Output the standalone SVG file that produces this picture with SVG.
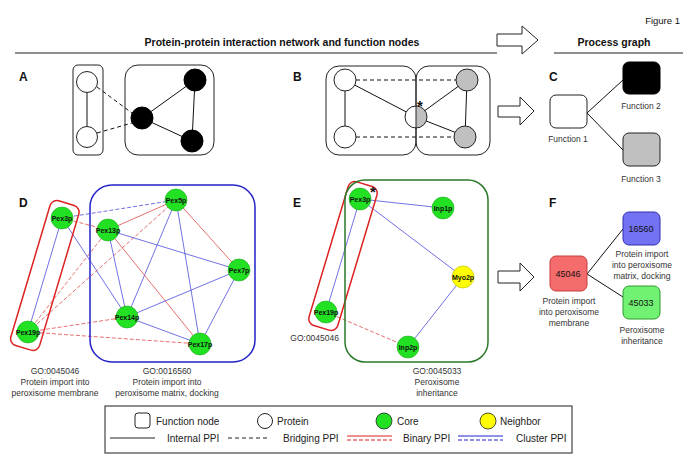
<svg xmlns="http://www.w3.org/2000/svg" width="685" height="472" viewBox="0 0 685 472">
<style>
text{font-family:"Liberation Sans",Arial,sans-serif;fill:#111}
.hdr{font-size:10.5px;font-weight:bold;text-anchor:middle}
.lbl{font-size:12px;font-weight:bold}
.sm{font-size:8.5px;text-anchor:middle;fill:#333}
.leg{font-size:10px;fill:#222}
.nl{font-size:7px;font-weight:bold;text-anchor:middle}
.box{fill:none;stroke:#222;stroke-width:1}
.wc{fill:#fff;stroke:#222;stroke-width:1}
.bc{fill:#000;stroke:#000;stroke-width:1}
.gc{fill:#c0c0c0;stroke:#222;stroke-width:1}
.edge{stroke:#111;stroke-width:1;fill:none}
.dash{stroke:#111;stroke-width:1;stroke-dasharray:4,3;fill:none}
.core{fill:#22e022;stroke:#1caa1c;stroke-width:0.6}
.nbr{fill:#ffff00;stroke:#b8b800;stroke-width:0.6}
.be{stroke:#4c4cdc;stroke-width:0.8;fill:none}
.bd{stroke:#4c4cdc;stroke-width:0.8;fill:none;stroke-dasharray:4,2}
.re{stroke:#e04a4a;stroke-width:0.8;fill:none}
.rd{stroke:#e04a4a;stroke-width:0.8;fill:none;stroke-dasharray:4,2}
.arrow{fill:#fff;stroke:#222;stroke-width:1}
</style>

<!-- Header -->
<text x="680" y="24" font-size="9.5" text-anchor="end" fill="#222">Figure 1</text>
<text class="hdr" x="282" y="46">Protein-protein interaction network and function nodes</text>
<text class="hdr" x="614" y="46">Process graph</text>
<line x1="15" y1="53" x2="497" y2="53" stroke="#222" stroke-width="1.2"/>
<line x1="554" y1="53" x2="683" y2="53" stroke="#222" stroke-width="1.2"/>
<polygon class="arrow" points="497,34 522,34 522,26 538,40 522,54 522,46 497,46"/>

<!-- Panel labels -->
<text class="lbl" x="19" y="81">A</text>
<text class="lbl" x="293" y="81">B</text>
<text class="lbl" x="549" y="81">C</text>
<text class="lbl" x="19" y="207">D</text>
<text class="lbl" x="293" y="207">E</text>
<text class="lbl" x="549" y="207">F</text>

<!-- Connectors -->
<g id="connectors">
  <!-- A -->
  <line class="edge" x1="87" y1="93" x2="87" y2="127"/>
  <line class="dash" x1="97" y1="87" x2="132" y2="113"/>
  <line class="dash" x1="97" y1="133" x2="132" y2="123"/>
  <line class="edge" x1="142" y1="118" x2="195" y2="80"/>
  <line class="edge" x1="195" y1="80" x2="192" y2="141"/>
  <line class="edge" x1="142" y1="118" x2="192" y2="141"/>
  <!-- B -->
  <line class="edge" x1="345" y1="80" x2="345" y2="137"/>
  <line class="edge" x1="345" y1="80" x2="416" y2="117"/>
  <line class="edge" x1="416" y1="117" x2="467" y2="80"/>
  <line class="edge" x1="416" y1="117" x2="467" y2="137"/>
  <line class="edge" x1="467" y1="80" x2="465" y2="137"/>
  <line class="dash" x1="356" y1="80" x2="456" y2="80"/>
  <line class="dash" x1="356" y1="137" x2="455" y2="137"/>
  <!-- C -->
  <line class="edge" x1="587" y1="113" x2="623" y2="80"/>
  <line class="edge" x1="587" y1="113" x2="623" y2="150"/>
  <!-- D -->
  <line class="bd" x1="62" y1="218" x2="176" y2="200"/>
  <line class="rd" x1="62" y1="218" x2="108" y2="230"/>
  <line class="be" x1="62" y1="218" x2="127" y2="317"/>
  <line class="be" x1="62" y1="218" x2="28" y2="332"/>
  <line class="rd" x1="28" y1="332" x2="176" y2="200"/>
  <line class="rd" x1="28" y1="332" x2="108" y2="230"/>
  <line class="rd" x1="28" y1="332" x2="127" y2="317"/>
  <line class="rd" x1="28" y1="332" x2="200" y2="344"/>
  <line class="re" x1="176" y1="200" x2="108" y2="230"/>
  <line class="be" x1="176" y1="200" x2="127" y2="317"/>
  <line class="be" x1="176" y1="200" x2="200" y2="344"/>
  <line class="re" x1="176" y1="200" x2="239" y2="270"/>
  <line class="be" x1="108" y1="230" x2="239" y2="270"/>
  <line class="be" x1="108" y1="230" x2="127" y2="317"/>
  <line class="re" x1="108" y1="230" x2="200" y2="344"/>
  <line class="be" x1="127" y1="317" x2="239" y2="270"/>
  <line class="be" x1="127" y1="317" x2="200" y2="344"/>
  <line class="be" x1="239" y1="270" x2="200" y2="344"/>
  <!-- E -->
  <line class="be" x1="360" y1="199" x2="443" y2="208"/>
  <line class="be" x1="360" y1="199" x2="463" y2="277"/>
  <line class="be" x1="463" y1="277" x2="408" y2="347"/>
  <line class="be" x1="360" y1="199" x2="326" y2="312"/>
  <line class="rd" x1="326" y1="312" x2="408" y2="347"/>
  <!-- F -->
  <line class="edge" x1="587" y1="274" x2="623" y2="229"/>
  <line class="edge" x1="587" y1="274" x2="623" y2="297"/>
  <!-- big arrows -->
  <polygon class="arrow" points="498,106 520,106 520,97 534,111 520,125 520,117 498,117"/>
  <polygon class="arrow" points="498,271 520,271 520,263 534,277 520,291 520,283 498,283"/>
</g>

<!-- Panel A nodes -->
<g id="A-group1"><rect class="box" x="73" y="65" width="30" height="90" rx="5"/></g>
<g id="A-group2"><rect class="box" x="125" y="65" width="89" height="90" rx="13"/></g>
<g id="A-p1"><circle class="wc" cx="87" cy="82" r="10.5"/></g>
<g id="A-p2"><circle class="wc" cx="87" cy="137" r="10.5"/></g>
<g id="A-p3"><circle class="bc" cx="195" cy="80" r="11"/></g>
<g id="A-p4"><circle class="bc" cx="142" cy="118" r="11"/></g>
<g id="A-p5"><circle class="bc" cx="192" cy="141" r="11"/></g>

<!-- Panel B nodes -->
<g id="B-group1"><rect class="box" x="326" y="66" width="90" height="89" rx="13"/></g>
<g id="B-group2"><rect class="box" x="416" y="66" width="74" height="89" rx="13"/></g>
<g id="B-p1"><circle class="wc" cx="345" cy="80" r="11"/></g>
<g id="B-p2"><circle class="wc" cx="345" cy="137" r="11"/></g>
<g id="B-p3"><circle class="gc" cx="467" cy="80" r="11"/></g>
<g id="B-p4"><circle class="gc" cx="465" cy="137" r="11"/></g>
<g id="B-shared">
  <path d="M416,106 A11,11 0 0 0 416,128 Z" fill="#fff"/>
  <path d="M416,106 A11,11 0 0 1 416,128 Z" fill="#c0c0c0"/>
  <circle cx="416" cy="117" r="11" fill="none" stroke="#222" stroke-width="1"/>
  <line x1="416" y1="106" x2="416" y2="128" stroke="#222" stroke-width="1"/>
  <text x="420" y="111" font-size="15" font-weight="bold" text-anchor="middle">*</text>
</g>

<!-- Panel C nodes -->
<g id="C-f1"><rect x="550" y="95" width="37" height="33" rx="6" fill="#fff" stroke="#222"/><text class="sm" x="568" y="142">Function 1</text></g>
<g id="C-f2"><rect x="623" y="62" width="37" height="32" rx="6" fill="#000" stroke="#000"/><text class="sm" x="641" y="109">Function 2</text></g>
<g id="C-f3"><rect x="623" y="133" width="37" height="33" rx="6" fill="#c0c0c0" stroke="#222"/><text class="sm" x="641" y="182">Function 3</text></g>

<!-- Panel D -->
<g id="D-go1">
  <rect x="30" y="200" width="30" height="151" rx="7" fill="none" stroke="#dd2222" stroke-width="1.5" transform="rotate(16.6 45 275)"/>
  <text class="sm" x="55" y="374">GO:0045046</text>
  <text class="sm" x="55" y="385">Protein import into</text>
  <text class="sm" x="55" y="396">peroxisome membrane</text>
</g>
<g id="D-go2">
  <rect x="90" y="185" width="165" height="177" rx="22" fill="none" stroke="#2323c8" stroke-width="1.5"/>
  <text class="sm" x="167" y="374">GO:0016560</text>
  <text class="sm" x="167" y="385">Protein import into</text>
  <text class="sm" x="167" y="396">peroxisome matrix, docking</text>
</g>
<g id="D-Pex3p"><circle class="core" cx="62" cy="218" r="11"/><text class="nl" x="62" y="220.5">Pex3p</text></g>
<g id="D-Pex19p"><circle class="core" cx="28" cy="332" r="11"/><text class="nl" x="28" y="334.5">Pex19p</text></g>
<g id="D-Pex5p"><circle class="core" cx="176" cy="200" r="11"/><text class="nl" x="176" y="202.5">Pex5p</text></g>
<g id="D-Pex13p"><circle class="core" cx="108" cy="230" r="11"/><text class="nl" x="108" y="232.5">Pex13p</text></g>
<g id="D-Pex7p"><circle class="core" cx="239" cy="270" r="11"/><text class="nl" x="239" y="272.5">Pex7p</text></g>
<g id="D-Pex14p"><circle class="core" cx="127" cy="317" r="11"/><text class="nl" x="127" y="319.5">Pex14p</text></g>
<g id="D-Pex17p"><circle class="core" cx="200" cy="344" r="11"/><text class="nl" x="200" y="346.5">Pex17p</text></g>

<!-- Panel E -->
<g id="E-go1">
  <rect x="328" y="181" width="30" height="150" rx="7" fill="none" stroke="#dd2222" stroke-width="1.5" transform="rotate(16.7 343 256)"/>
  <text class="sm" x="339" y="341" style="text-anchor:end">GO:0045046</text>
</g>
<g id="E-go2">
  <rect x="345" y="180" width="143" height="182" rx="20" fill="none" stroke="#2a7a2a" stroke-width="1.5"/>
  <text class="sm" x="437" y="374">GO:0045033</text>
  <text class="sm" x="437" y="385">Peroxisome</text>
  <text class="sm" x="437" y="396">inheritance</text>
</g>
<g id="E-Pex3p"><circle class="core" cx="360" cy="199" r="11"/><text class="nl" x="360" y="201.5">Pex3p</text><text x="373" y="197" font-size="15" font-weight="bold" text-anchor="middle">*</text></g>
<g id="E-Pex19p"><circle class="core" cx="326" cy="312" r="11"/><text class="nl" x="326" y="314.5">Pex19p</text></g>
<g id="E-Inp1p"><circle class="core" cx="443" cy="208" r="11"/><text class="nl" x="443" y="210.5">Inp1p</text></g>
<g id="E-Myo2p"><circle class="nbr" cx="463" cy="277" r="11"/><text class="nl" x="463" y="279.5">Myo2p</text></g>
<g id="E-Inp2p"><circle class="core" cx="408" cy="347" r="11"/><text class="nl" x="408" y="349.5">Inp2p</text></g>

<!-- Panel F -->
<g id="F-45046"><rect x="550" y="256" width="37" height="35" rx="6" fill="#f46c6c" stroke="#c83c3c"/><text x="568" y="277" font-size="9" text-anchor="middle">45046</text>
  <text class="sm" x="569" y="304">Protein import</text><text class="sm" x="569" y="315">into peroxisome</text><text class="sm" x="569" y="326">membrane</text></g>
<g id="F-16560"><rect x="623" y="212" width="37" height="33" rx="6" fill="#7272f2" stroke="#2f2fb0"/><text x="641" y="232" font-size="9" text-anchor="middle">16560</text>
  <text class="sm" x="642" y="257">Protein import</text><text class="sm" x="642" y="268">into peroxisome</text><text class="sm" x="642" y="279">matrix, docking</text></g>
<g id="F-45033"><rect x="623" y="286" width="37" height="33" rx="6" fill="#72f272" stroke="#2f9a2f"/><text x="641" y="306" font-size="9" text-anchor="middle">45033</text>
  <text class="sm" x="642" y="333">Peroxisome</text><text class="sm" x="642" y="344">inheritance</text></g>

<!-- Legend -->
<g id="legend">
  <rect x="105" y="406" width="467" height="47" fill="none" stroke="#444" stroke-width="1.2"/>
  <rect x="135" y="413" width="15" height="15" rx="3" fill="#fff" stroke="#222"/>
  <text class="leg" x="156" y="424.5">Function node</text>
  <circle cx="265" cy="421" r="7.5" fill="#fff" stroke="#222"/>
  <text class="leg" x="277" y="424.5">Protein</text>
  <circle cx="384" cy="421" r="8" fill="#22e022" stroke="#222" stroke-width="0.8"/>
  <text class="leg" x="397" y="424.5">Core</text>
  <circle cx="488" cy="421" r="8" fill="#ffff00" stroke="#222" stroke-width="0.8"/>
  <text class="leg" x="500" y="424.5">Neighbor</text>
  <line x1="110" y1="438" x2="155" y2="438" stroke="#222"/>
  <text class="leg" x="167" y="441.5">Internal PPI</text>
  <line x1="228" y1="438" x2="270" y2="438" stroke="#222" stroke-dasharray="4,3"/>
  <text class="leg" x="283" y="441.5">Bridging PPI</text>
  <line x1="347" y1="436" x2="392" y2="436" stroke="#e02020"/>
  <line x1="347" y1="440" x2="392" y2="440" stroke="#e02020" stroke-dasharray="4,2"/>
  <text class="leg" x="403" y="441.5">Binary PPI</text>
  <line x1="458" y1="436" x2="503" y2="436" stroke="#2020d0"/>
  <line x1="458" y1="440" x2="503" y2="440" stroke="#2020d0" stroke-dasharray="4,2"/>
  <text class="leg" x="516" y="441.5">Cluster PPI</text>
</g>
</svg>
